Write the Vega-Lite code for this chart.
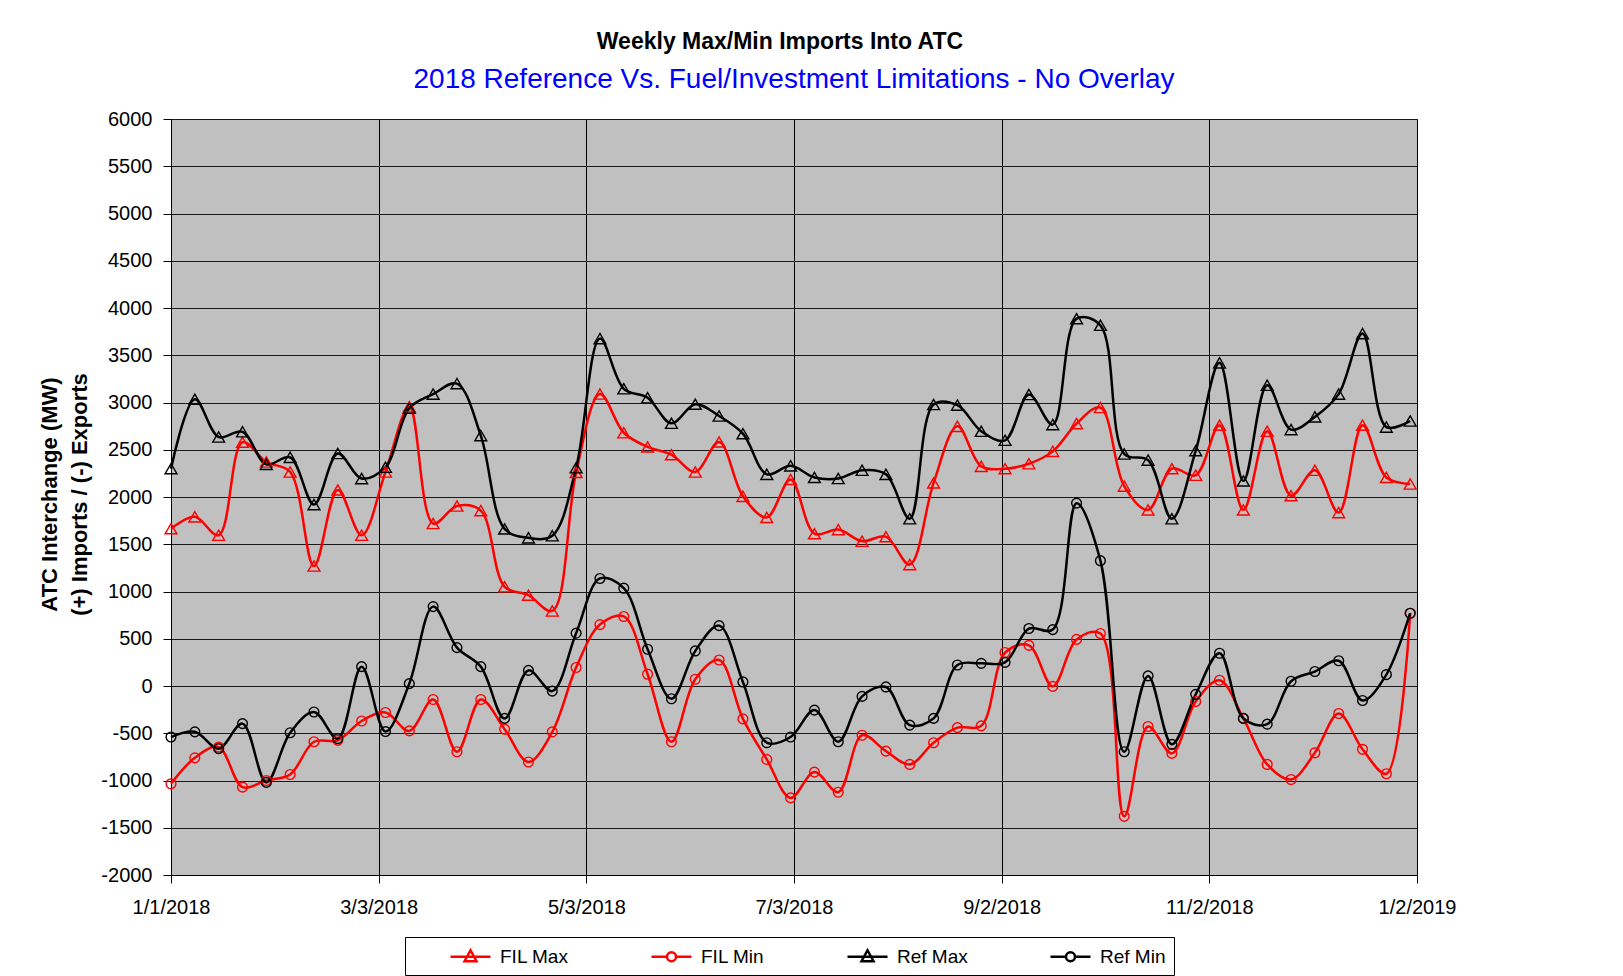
{
  "$schema": "https://vega.github.io/schema/vega-lite/v6.json",
  "width": 1246,
  "height": 756,
  "autosize": {"type": "none"},
  "padding": {"left": 171, "top": 119, "right": 206, "bottom": 101},
  "background": "white",
  "title": {
    "text": "Weekly Max/Min Imports Into ATC",
    "subtitle": "2018 Reference Vs. Fuel/Investment Limitations - No Overlay",
    "anchor": "middle",
    "font": "Liberation Sans",
    "fontSize": 23,
    "fontWeight": "bold",
    "color": "#000000",
    "subtitleFont": "Liberation Sans",
    "subtitleFontSize": 28,
    "subtitleColor": "#0000FF",
    "subtitlePadding": 12,
    "offset": 15,
    "encode": {"title": {"update": {"dx": {"value": -14}}}}
  },
  "data": {
    "values": [
      {"date": "2018-01-01", "FIL Max": 1665, "FIL Min": -1035, "Ref Max": 2300, "Ref Min": -540},
      {"date": "2018-01-08", "FIL Max": 1790, "FIL Min": -760, "Ref Max": 3035, "Ref Min": -485},
      {"date": "2018-01-15", "FIL Max": 1595, "FIL Min": -645, "Ref Max": 2635, "Ref Min": -663},
      {"date": "2018-01-22", "FIL Max": 2580, "FIL Min": -1070, "Ref Max": 2690, "Ref Min": -398},
      {"date": "2018-01-29", "FIL Max": 2370, "FIL Min": -1000, "Ref Max": 2345, "Ref Min": -1020},
      {"date": "2018-02-05", "FIL Max": 2265, "FIL Min": -936, "Ref Max": 2420, "Ref Min": -495},
      {"date": "2018-02-12", "FIL Max": 1270, "FIL Min": -590, "Ref Max": 1920, "Ref Min": -275},
      {"date": "2018-02-19", "FIL Max": 2075, "FIL Min": -575, "Ref Max": 2460, "Ref Min": -557},
      {"date": "2018-02-26", "FIL Max": 1595, "FIL Min": -370, "Ref Max": 2195, "Ref Min": 205},
      {"date": "2018-03-05", "FIL Max": 2265, "FIL Min": -280, "Ref Max": 2315, "Ref Min": -482},
      {"date": "2018-03-12", "FIL Max": 2955, "FIL Min": -475, "Ref Max": 2940, "Ref Min": 25},
      {"date": "2018-03-19", "FIL Max": 1720, "FIL Min": -143, "Ref Max": 3089, "Ref Min": 840},
      {"date": "2018-03-26", "FIL Max": 1905, "FIL Min": -696, "Ref Max": 3200, "Ref Min": 406},
      {"date": "2018-04-02", "FIL Max": 1856, "FIL Min": -143, "Ref Max": 2650, "Ref Min": 205},
      {"date": "2018-04-09", "FIL Max": 1050, "FIL Min": -457, "Ref Max": 1662, "Ref Min": -343},
      {"date": "2018-04-16", "FIL Max": 961, "FIL Min": -804, "Ref Max": 1568, "Ref Min": 165},
      {"date": "2018-04-23", "FIL Max": 794, "FIL Min": -486, "Ref Max": 1590, "Ref Min": -54},
      {"date": "2018-04-30", "FIL Max": 2260, "FIL Min": 196, "Ref Max": 2310, "Ref Min": 559},
      {"date": "2018-05-07", "FIL Max": 3090, "FIL Min": 650, "Ref Max": 3676, "Ref Min": 1138},
      {"date": "2018-05-14", "FIL Max": 2680, "FIL Min": 736, "Ref Max": 3145, "Ref Min": 1035},
      {"date": "2018-05-21", "FIL Max": 2530, "FIL Min": 125, "Ref Max": 3050, "Ref Min": 389},
      {"date": "2018-05-28", "FIL Max": 2448, "FIL Min": -590, "Ref Max": 2780, "Ref Min": -135},
      {"date": "2018-06-04", "FIL Max": 2265, "FIL Min": 71, "Ref Max": 2982, "Ref Min": 371},
      {"date": "2018-06-11", "FIL Max": 2583, "FIL Min": 275, "Ref Max": 2857, "Ref Min": 639},
      {"date": "2018-06-18", "FIL Max": 2007, "FIL Min": -348, "Ref Max": 2670, "Ref Min": 43},
      {"date": "2018-06-25", "FIL Max": 1784, "FIL Min": -777, "Ref Max": 2240, "Ref Min": -600},
      {"date": "2018-07-02", "FIL Max": 2186, "FIL Min": -1184, "Ref Max": 2330, "Ref Min": -540},
      {"date": "2018-07-09", "FIL Max": 1612, "FIL Min": -911, "Ref Max": 2207, "Ref Min": -255},
      {"date": "2018-07-16", "FIL Max": 1655, "FIL Min": -1124, "Ref Max": 2196, "Ref Min": -590},
      {"date": "2018-07-23", "FIL Max": 1532, "FIL Min": -521, "Ref Max": 2283, "Ref Min": -110},
      {"date": "2018-07-30", "FIL Max": 1580, "FIL Min": -689, "Ref Max": 2240, "Ref Min": -10},
      {"date": "2018-08-06", "FIL Max": 1285, "FIL Min": -830, "Ref Max": 1770, "Ref Min": -414},
      {"date": "2018-08-13", "FIL Max": 2149, "FIL Min": -600, "Ref Max": 2979, "Ref Min": -343},
      {"date": "2018-08-20", "FIL Max": 2748, "FIL Min": -440, "Ref Max": 2972, "Ref Min": 222},
      {"date": "2018-08-27", "FIL Max": 2324, "FIL Min": -422, "Ref Max": 2696, "Ref Min": 240},
      {"date": "2018-09-03", "FIL Max": 2300, "FIL Min": 354, "Ref Max": 2600, "Ref Min": 250},
      {"date": "2018-09-10", "FIL Max": 2352, "FIL Min": 430, "Ref Max": 3085, "Ref Min": 608},
      {"date": "2018-09-17", "FIL Max": 2483, "FIL Min": -4, "Ref Max": 2766, "Ref Min": 597},
      {"date": "2018-09-24", "FIL Max": 2777, "FIL Min": 493, "Ref Max": 3887, "Ref Min": 1935},
      {"date": "2018-10-01", "FIL Max": 2947, "FIL Min": 556, "Ref Max": 3817, "Ref Min": 1326},
      {"date": "2018-10-08", "FIL Max": 2115, "FIL Min": -1379, "Ref Max": 2455, "Ref Min": -696},
      {"date": "2018-10-15", "FIL Max": 1863, "FIL Min": -429, "Ref Max": 2390, "Ref Min": 107},
      {"date": "2018-10-22", "FIL Max": 2300, "FIL Min": -713, "Ref Max": 1770, "Ref Min": -617},
      {"date": "2018-10-29", "FIL Max": 2230, "FIL Min": -164, "Ref Max": 2490, "Ref Min": -88},
      {"date": "2018-11-05", "FIL Max": 2760, "FIL Min": 61, "Ref Max": 3420, "Ref Min": 347},
      {"date": "2018-11-12", "FIL Max": 1863, "FIL Min": -343, "Ref Max": 2170, "Ref Min": -343},
      {"date": "2018-11-19", "FIL Max": 2696, "FIL Min": -830, "Ref Max": 3183, "Ref Min": -404},
      {"date": "2018-11-26", "FIL Max": 2014, "FIL Min": -989, "Ref Max": 2713, "Ref Min": 50},
      {"date": "2018-12-03", "FIL Max": 2283, "FIL Min": -707, "Ref Max": 2848, "Ref Min": 153},
      {"date": "2018-12-10", "FIL Max": 1835, "FIL Min": -291, "Ref Max": 3089, "Ref Min": 267},
      {"date": "2018-12-17", "FIL Max": 2760, "FIL Min": -670, "Ref Max": 3729, "Ref Min": -153},
      {"date": "2018-12-24", "FIL Max": 2207, "FIL Min": -929, "Ref Max": 2740, "Ref Min": 121},
      {"date": "2018-12-31", "FIL Max": 2138, "FIL Min": 770, "Ref Max": 2804, "Ref Min": 770}
    ]
  },
  "transform": [
    {"fold": ["FIL Max", "FIL Min", "Ref Max", "Ref Min"], "as": ["series", "value"]}
  ],
  "encoding": {
    "x": {
      "field": "date",
      "type": "temporal",
      "scale": {
        "type": "utc",
        "domain": [
          {"year": 2018, "month": 1, "date": 1, "utc": true},
          {"year": 2019, "month": 1, "date": 2, "utc": true}
        ],
        "nice": false
      },
      "axis": {
        "title": null,
        "values": [
          {"year": 2018, "month": 1, "date": 1, "utc": true},
          {"year": 2018, "month": 3, "date": 3, "utc": true},
          {"year": 2018, "month": 5, "date": 3, "utc": true},
          {"year": 2018, "month": 7, "date": 3, "utc": true},
          {"year": 2018, "month": 9, "date": 2, "utc": true},
          {"year": 2018, "month": 11, "date": 2, "utc": true},
          {"year": 2019, "month": 1, "date": 2, "utc": true}
        ],
        "labelExpr": "utcFormat(datum.value, '%-m/%-d/%Y')",
        "grid": true,
        "gridColor": "#000000",
        "gridWidth": 1,
        "domainColor": "#000000",
        "tickColor": "#000000",
        "tickSize": 8,
        "labelPadding": 14,
        "labelFont": "Liberation Sans",
        "labelFontSize": 20,
        "labelColor": "#000000",
        "labelFlush": false,
        "labelOverlap": false
      }
    },
    "y": {
      "field": "value",
      "type": "quantitative",
      "scale": {"domain": [-2000, 6000], "nice": false, "zero": false},
      "axis": {
        "values": [-2000, -1500, -1000, -500, 0, 500, 1000, 1500, 2000, 2500, 3000, 3500, 4000, 4500, 5000, 5500, 6000],
        "labelExpr": "'' + datum.value",
        "grid": true,
        "gridColor": "#1a1a1a",
        "gridWidth": 1,
        "domainColor": "#000000",
        "tickColor": "#000000",
        "tickSize": 8,
        "labelPadding": 11,
        "labelFont": "Liberation Sans",
        "labelFontSize": 20,
        "labelColor": "#000000",
        "labelOverlap": false,
        "title": ["ATC Interchange (MW)", "(+) Imports / (-) Exports"],
        "titleFont": "Liberation Sans",
        "titleFontSize": 22,
        "titleFontWeight": "bold",
        "titleColor": "#000000",
        "titleLineHeight": 30,
        "titleBaseline": "middle",
        "titleAlign": "center",
        "titleAngle": -90,
        "titleX": -122,
        "titleY": 375
      }
    },
    "color": {
      "field": "series",
      "type": "nominal",
      "scale": {
        "domain": ["FIL Max", "FIL Min", "Ref Max", "Ref Min"],
        "range": ["#FF0000", "#FF0000", "#000000", "#000000"]
      },
      "legend": {
        "title": null,
        "orient": "none",
        "direction": "horizontal",
        "legendX": 234,
        "legendY": 818,
        "strokeColor": "#000000",
        "fillColor": "#FFFFFF",
        "padding": 8,
        "columnPadding": 45,
        "symbolSize": 400,
        "symbolStrokeWidth": 2.5,
        "symbolType": "stroke",
        "labelFont": "Liberation Sans",
        "labelFontSize": 19,
        "labelColor": "#000000",
        "labelOffset": 64,
        "encode": {
          "symbols": {
            "update": {
              "shape": {"signal": "indexof(datum.value, 'Max') >= 0 ? 'M2.6,0H6.6M4.6,-0.65L5.2,0.45L4.0,0.45Z' : 'M2.6,0H4.15M5.05,0H6.6M5.05,0A0.45,0.45,0,1,1,4.15,0A0.45,0.45,0,1,1,5.05,0'"},
              "fill": {"value": "transparent"},
              "stroke": {"signal": "indexof(datum.value, 'FIL') >= 0 ? '#FF0000' : '#000000'"}
            }
          }
        }
      }
    }
  },
  "layer": [
    {
      "mark": {"type": "line", "interpolate": "catmull-rom", "strokeWidth": 2.5}
    },
    {
      "transform": [{"filter": "indexof(datum.series, 'Max') >= 0"}],
      "mark": {"type": "point", "shape": "triangle-up", "filled": false, "strokeWidth": 1.4, "opacity": 1, "size": 140}
    },
    {
      "transform": [{"filter": "indexof(datum.series, 'Min') >= 0"}],
      "mark": {"type": "point", "shape": "circle", "filled": false, "strokeWidth": 1.4, "opacity": 1, "size": 95}
    }
  ],
  "config": {
    "view": {"fill": "#C0C0C0", "stroke": "#808080", "strokeWidth": 1},
    "font": "Liberation Sans"
  }
}
